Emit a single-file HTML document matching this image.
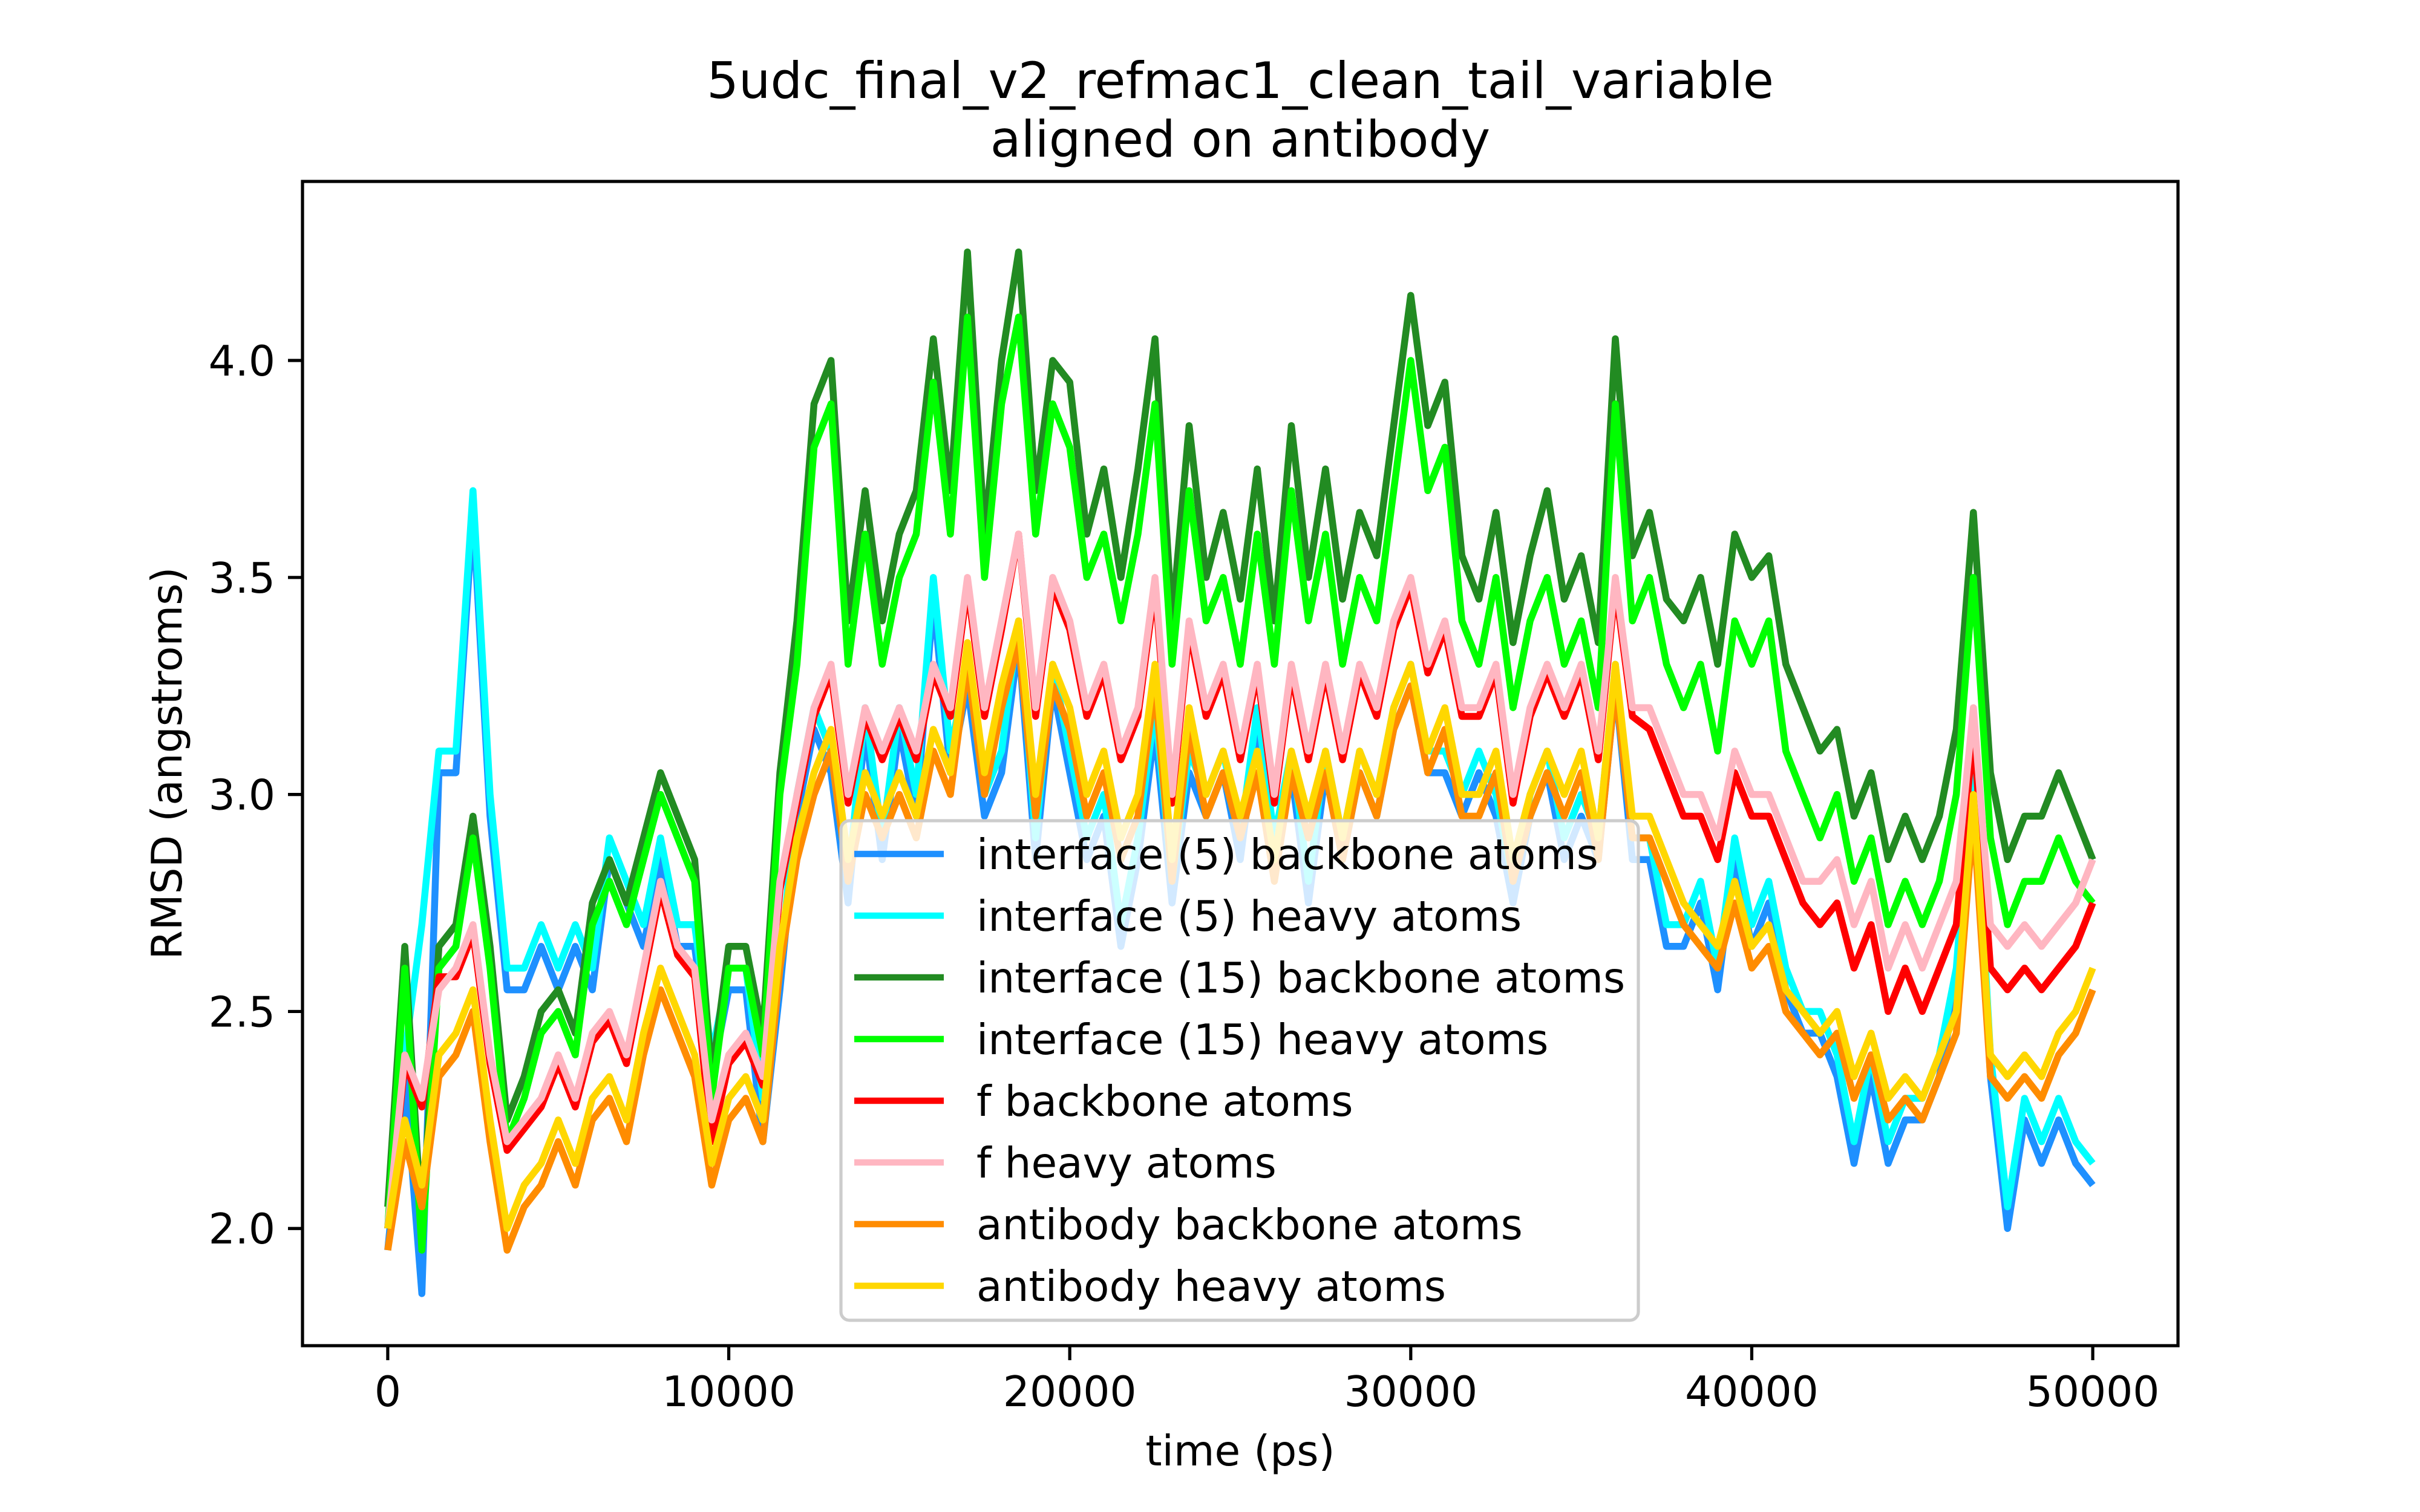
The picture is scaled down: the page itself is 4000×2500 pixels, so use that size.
<!DOCTYPE html>
<html><head><meta charset="utf-8"><style>
html,body{margin:0;padding:0;background:#fff;}
svg{display:block;font-family:"DejaVu Sans","Liberation Sans",sans-serif;}
</style></head><body>
<svg id="chart" width="4000" height="2500" viewBox="0 0 4000 2500" xmlns="http://www.w3.org/2000/svg">
<rect x="0" y="0" width="4000" height="2500" fill="#fff"/>
<text x="2050" y="162" text-anchor="middle" font-size="83">5udc_final_v2_refmac1_clean_tail_variable</text>
<text x="2050" y="259" text-anchor="middle" font-size="83">aligned on antibody</text>
<g id="series"></g>
<rect x="500" y="300" width="3100" height="1925" fill="none" stroke="#000" stroke-width="5.2"/>
<g id="ticks"></g>
<text x="2050" y="2423" text-anchor="middle" font-size="69.4">time (ps)</text>
<text transform="translate(300,1262) rotate(-90)" text-anchor="middle" font-size="69.4">RMSD (angstroms)</text>
<g id="legend"></g>
</svg>
<script>
const times = [];
for (let i = 0; i <= 100; i++) times.push(i * 500);
const xTicks = [0, 10000, 20000, 30000, 40000, 50000];
const yTicks = [2.0, 2.5, 3.0, 3.5, 4.0];
const seriesNames = ["interface (5) backbone atoms","interface (5) heavy atoms","interface (15) backbone atoms","interface (15) heavy atoms","f backbone atoms","f heavy atoms","antibody backbone atoms","antibody heavy atoms"];
const seriesColors = ["#1e90ff","#00ffff","#228b22","#00ff00","#ff0000","#ffb6c1","#ff8c00","#ffd700"];
const ifc5bb = [1.95,2.35,1.85,3.05,3.05,3.65,2.95,2.55,2.55,2.65,2.55,2.65,2.55,2.85,2.75,2.65,2.85,2.65,2.65,2.35,2.55,2.55,2.2,2.55,2.95,3.15,3.05,2.75,3.15,2.85,3.15,2.95,3.45,3.05,3.25,2.95,3.05,3.35,2.85,3.25,3.05,2.85,2.95,2.65,2.85,3.15,2.75,3.05,2.95,3.05,2.85,3.15,2.85,3.05,2.75,3.05,2.85,3.05,2.95,3.15,3.25,3.05,3.05,2.95,3.05,2.95,2.75,2.95,3.05,2.85,2.95,2.85,3.25,2.85,2.85,2.65,2.65,2.75,2.55,2.85,2.65,2.75,2.55,2.45,2.45,2.35,2.15,2.35,2.15,2.25,2.25,2.35,2.55,3.05,2.35,2.0,2.25,2.15,2.25,2.15,2.1];
const ifc5hv = [2.0,2.4,2.7,3.1,3.1,3.7,3.0,2.6,2.6,2.7,2.6,2.7,2.6,2.9,2.8,2.7,2.9,2.7,2.7,2.4,2.6,2.6,2.3,2.6,3.0,3.2,3.1,2.8,3.2,2.9,3.2,3.0,3.5,3.1,3.3,3.0,3.1,3.4,2.9,3.3,3.1,2.9,3.0,2.7,2.9,3.2,2.8,3.1,3.0,3.1,2.9,3.2,2.9,3.1,2.8,3.1,2.9,3.1,3.0,3.2,3.3,3.1,3.1,3.0,3.1,3.0,2.8,3.0,3.1,2.9,3.0,2.9,3.3,2.9,2.9,2.7,2.7,2.8,2.6,2.9,2.7,2.8,2.6,2.5,2.5,2.4,2.2,2.4,2.2,2.3,2.3,2.4,2.6,3.1,2.4,2.05,2.3,2.2,2.3,2.2,2.15];
const ifc15bb = [2.05,2.65,2.0,2.65,2.7,2.95,2.65,2.25,2.35,2.5,2.55,2.45,2.75,2.85,2.75,2.9,3.05,2.95,2.85,2.35,2.65,2.65,2.45,3.05,3.4,3.9,4.0,3.4,3.7,3.4,3.6,3.7,4.05,3.7,4.25,3.6,4.0,4.25,3.7,4.0,3.95,3.6,3.75,3.5,3.75,4.05,3.4,3.85,3.5,3.65,3.45,3.75,3.4,3.85,3.5,3.75,3.45,3.65,3.55,3.85,4.15,3.85,3.95,3.55,3.45,3.65,3.35,3.55,3.7,3.45,3.55,3.35,4.05,3.55,3.65,3.45,3.4,3.5,3.3,3.6,3.5,3.55,3.3,3.2,3.1,3.15,2.95,3.05,2.85,2.95,2.85,2.95,3.15,3.65,3.05,2.85,2.95,2.95,3.05,2.95,2.85];
const ifc15hv = [2.0,2.6,1.95,2.6,2.65,2.9,2.6,2.2,2.3,2.45,2.5,2.4,2.7,2.8,2.7,2.85,3.0,2.9,2.8,2.3,2.6,2.6,2.4,3.0,3.3,3.8,3.9,3.3,3.6,3.3,3.5,3.6,3.95,3.6,4.1,3.5,3.9,4.1,3.6,3.9,3.8,3.5,3.6,3.4,3.6,3.9,3.3,3.7,3.4,3.5,3.3,3.6,3.3,3.7,3.4,3.6,3.3,3.5,3.4,3.7,4.0,3.7,3.8,3.4,3.3,3.5,3.2,3.4,3.5,3.3,3.4,3.2,3.9,3.4,3.5,3.3,3.2,3.3,3.1,3.4,3.3,3.4,3.1,3.0,2.9,3.0,2.8,2.9,2.7,2.8,2.7,2.8,3.0,3.5,2.9,2.7,2.8,2.8,2.9,2.8,2.75];
const fbb = [2.0,2.38,2.28,2.58,2.58,2.68,2.38,2.18,2.23,2.28,2.38,2.28,2.43,2.48,2.38,2.58,2.78,2.63,2.58,2.2,2.38,2.43,2.33,2.78,2.98,3.18,3.28,2.98,3.18,3.08,3.18,3.08,3.28,3.18,3.48,3.18,3.38,3.6,3.18,3.48,3.38,3.18,3.28,3.08,3.18,3.48,2.98,3.38,3.18,3.28,3.08,3.28,2.98,3.28,3.08,3.28,3.08,3.28,3.18,3.38,3.48,3.28,3.38,3.18,3.18,3.28,2.98,3.18,3.28,3.18,3.28,3.08,3.48,3.18,3.15,3.05,2.95,2.95,2.85,3.05,2.95,2.95,2.85,2.75,2.7,2.75,2.6,2.7,2.5,2.6,2.5,2.6,2.7,3.15,2.6,2.55,2.6,2.55,2.6,2.65,2.75];
const fhv = [2.0,2.4,2.3,2.55,2.6,2.7,2.4,2.2,2.25,2.3,2.4,2.3,2.45,2.5,2.4,2.6,2.8,2.65,2.6,2.25,2.4,2.45,2.35,2.8,3.0,3.2,3.3,3.0,3.2,3.1,3.2,3.1,3.3,3.2,3.5,3.2,3.4,3.6,3.2,3.5,3.4,3.2,3.3,3.1,3.2,3.5,3.0,3.4,3.2,3.3,3.1,3.3,3.0,3.3,3.1,3.3,3.1,3.3,3.2,3.4,3.5,3.3,3.4,3.2,3.2,3.3,3.0,3.2,3.3,3.2,3.3,3.1,3.5,3.2,3.2,3.1,3.0,3.0,2.9,3.1,3.0,3.0,2.9,2.8,2.8,2.85,2.7,2.8,2.6,2.7,2.6,2.7,2.8,3.2,2.7,2.65,2.7,2.65,2.7,2.75,2.85];
const abbb = [1.95,2.2,2.05,2.35,2.4,2.5,2.2,1.95,2.05,2.1,2.2,2.1,2.25,2.3,2.2,2.4,2.55,2.45,2.35,2.1,2.25,2.3,2.2,2.6,2.85,3.0,3.1,2.8,3.0,2.9,3.0,2.9,3.1,3.0,3.3,3.0,3.2,3.35,2.95,3.25,3.15,2.95,3.05,2.85,2.95,3.25,2.8,3.15,2.95,3.05,2.9,3.05,2.8,3.05,2.9,3.05,2.85,3.05,2.95,3.15,3.25,3.05,3.15,2.95,2.95,3.05,2.8,2.95,3.05,2.95,3.05,2.85,3.25,2.9,2.9,2.8,2.7,2.65,2.6,2.75,2.6,2.65,2.5,2.45,2.4,2.45,2.3,2.4,2.25,2.3,2.25,2.35,2.45,2.95,2.35,2.3,2.35,2.3,2.4,2.45,2.55];
const abhv = [2.0,2.25,2.1,2.4,2.45,2.55,2.25,2.0,2.1,2.15,2.25,2.15,2.3,2.35,2.25,2.45,2.6,2.5,2.4,2.15,2.3,2.35,2.25,2.65,2.9,3.05,3.15,2.85,3.05,2.95,3.05,2.95,3.15,3.05,3.35,3.05,3.25,3.4,3.0,3.3,3.2,3.0,3.1,2.9,3.0,3.3,2.85,3.2,3.0,3.1,2.95,3.1,2.85,3.1,2.95,3.1,2.9,3.1,3.0,3.2,3.3,3.1,3.2,3.0,3.0,3.1,2.85,3.0,3.1,3.0,3.1,2.9,3.3,2.95,2.95,2.85,2.75,2.7,2.65,2.8,2.65,2.7,2.55,2.5,2.45,2.5,2.35,2.45,2.3,2.35,2.3,2.4,2.5,3.0,2.4,2.35,2.4,2.35,2.45,2.5,2.6];

const NS = "http://www.w3.org/2000/svg";
const X0 = 500, X1 = 3600, Y0 = 300, Y1 = 2225;
const XMIN = -2500, XMAX = 52500, YMIN = 1.73, YMAX = 4.4125;
function xScale(v){ return X0 + (v - XMIN) / (XMAX - XMIN) * (X1 - X0); }
function yScale(v){ return Y1 - (v - YMIN) / (YMAX - YMIN) * (Y1 - Y0); }
function mk(tag, attrs, parent){ const e = document.createElementNS(NS, tag); for (const k in attrs) e.setAttribute(k, attrs[k]); parent.appendChild(e); return e; }

const allSeries = [ifc5bb, ifc5hv, ifc15bb, ifc15hv, fbb, fhv, abbb, abhv];
const seriesKeys = ["interface-5-backbone","interface-5-heavy","interface-15-backbone","interface-15-heavy","f-backbone","f-heavy","antibody-backbone","antibody-heavy"];
const sg = document.getElementById("series");
allSeries.forEach((vals, si) => {
  const d = vals.map((v, i) => (i ? "L" : "M") + xScale(times[i]).toFixed(1) + "," + yScale(v).toFixed(1)).join("");
  const p = mk("path", {d: d, fill: "none", stroke: seriesColors[si], "stroke-width": 11.5, "stroke-linejoin": "round"}, sg);
  
  
});

const tg = document.getElementById("ticks");
xTicks.forEach(t => {
  const x = xScale(t);
  const l = mk("line", {x1: x, x2: x, y1: Y1, y2: Y1 + 24, stroke: "#000", "stroke-width": 5.2}, tg);
  
  
  const tx = mk("text", {x: x, y: Y1 + 100, "text-anchor": "middle", "font-size": 69.4}, tg);
  tx.textContent = String(t);
  
  
});
yTicks.forEach(t => {
  const y = yScale(t);
  const l = mk("line", {x1: X0 - 24, x2: X0, y1: y, y2: y, stroke: "#000", "stroke-width": 5.2}, tg);
  
  
  const tx = mk("text", {x: X0 - 45, y: y + 25, "text-anchor": "end", "font-size": 69.4}, tg);
  tx.textContent = t.toFixed(1);
  
  
});

const lg = document.getElementById("legend");
const box = mk("rect", {x: 1390, y: 1357, width: 1318, height: 826, rx: 14, fill: "#fff", "fill-opacity": 0.8, stroke: "#cccccc", "stroke-width": 5.2}, lg);


seriesNames.forEach((name, i) => {
  const y = 1412 + i * 102;
  const l = mk("line", {x1: 1412, x2: 1560, y1: y, y2: y, stroke: seriesColors[i], "stroke-width": 10.4}, lg);
  
  
  const tx = mk("text", {x: 1614, y: y + 25, "font-size": 69.4}, lg);
  tx.textContent = name;
  
  
});
</script>
</body></html>
